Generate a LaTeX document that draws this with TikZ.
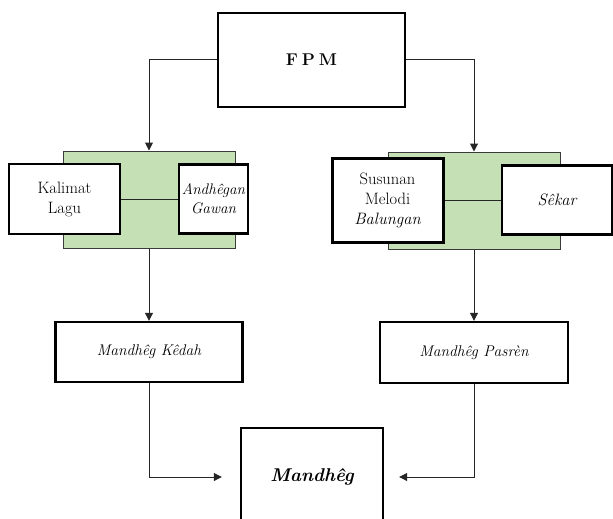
\documentclass[tikz,border=0pt]{standalone}
\usepackage{fontspec}
\usetikzlibrary{arrows.meta}
\definecolor{greenfill}{HTML}{C5E0B4}
\definecolor{greenline}{HTML}{3A3A3A}
\begin{document}
\begin{tikzpicture}[x=1pt,y=-1pt,
  box/.style={draw=black,fill=white,line width=2.4pt,rectangle,align=center,inner sep=2pt},
  greenbox/.style={draw=greenline,fill=greenfill,line width=1pt,rectangle},
  conn/.style={draw=black!85,line width=1pt},
  arr/.style={conn,-{Triangle[length=8pt,width=8pt]}},
  txt/.style={font=\fontsize{16.5}{20}\selectfont}
]
\useasboundingbox (0,0) rectangle (613,519);
% top
\node[box,minimum width=187pt,minimum height=94pt,font=\fontsize{17}{20}\selectfont\bfseries] (fpm) at (311.5,60) {F\hspace{4pt}P\hspace{4pt}M};
% green groups
\node[greenbox,minimum width=172pt,minimum height=97pt] (gl) at (149,199.5) {};
\node[greenbox,minimum width=172pt,minimum height=97pt] (gr) at (474,200.5) {};
% left inner
\node[box,txt,minimum width=111pt,minimum height=70pt] (kal) at (64.5,199) {Kalimat\\Lagu};
\node[box,minimum width=69pt,minimum height=69pt,inner sep=0pt,font=\fontsize{15.3}{19}\selectfont\itshape] (and) at (213.5,199) {Andhêgan\\Gawan};
% right inner
\node[box,txt,minimum width=111pt,minimum height=84pt,line width=3pt] (sus) at (387.5,200) {Susunan\\Melodi\\\itshape Balungan};
\node[box,txt,minimum width=110pt,minimum height=69pt] (sek) at (557,200) {\itshape Sêkar};
% middle
\node[box,minimum width=187pt,minimum height=60pt,font=\fontsize{15.5}{18}\selectfont\itshape] (ked) at (149,352) {Mandhêg Kêdah};
\node[box,minimum width=188pt,minimum height=61pt,font=\fontsize{15.5}{18}\selectfont\itshape] (pas) at (474,352.5) {Mandhêg Pasrèn};
% bottom
\node[box,minimum width=142pt,minimum height=98pt,font=\fontsize{18.5}{22}\selectfont\bfseries\itshape] (man) at (312,477) {Mandhêg};
% connectors
\draw[conn] (kal.east) -- (and.west);
\draw[conn] (sus.east) -- (sek.west);
\draw[arr] (fpm.west) -| (gl.north);
\draw[arr] (fpm.east) -| (gr.north);
\draw[arr] (gl.south) -- (ked.north);
\draw[arr] (gr.south) -- (pas.north);
\draw[arr,shorten >=18pt] (ked.south) |- (man.west);
\draw[arr,shorten >=15pt] (pas.south) |- (man.east);
\end{tikzpicture}
\end{document}
